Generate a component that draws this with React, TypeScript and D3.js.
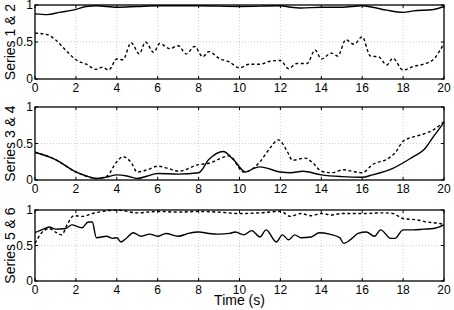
import React from "react";
import * as d3 from "d3";

const xTicks = [0, 2, 4, 6, 8, 10, 12, 14, 16, 18, 20];
const yTicks = [0, 0.5, 1];
const yTickLabels = ["0", "0.5", "1"];
const panelLabels = ["Series 1 & 2", "Series 3 & 4", "Series 5 & 6"];
const xLabel = "Time (s)";

const s1x = [0, 0.6, 1.2, 2, 2.5, 3, 4, 5, 6, 8, 10, 12, 12.5, 13, 14, 15, 16, 16.5, 17.2, 18, 18.5, 19.5, 20];
const s1y = [0.88, 0.87, 0.9, 0.94, 0.98, 0.99, 0.97, 0.98, 0.99, 0.99, 0.98, 0.99, 0.97, 0.96, 0.97, 0.97, 0.99, 0.97, 0.93, 0.9, 0.92, 0.94, 0.98];

const s2x = [0, 0.6, 1, 1.5, 2, 2.5, 3, 3.3, 3.6, 4, 4.3, 4.7, 5.1, 5.4, 5.8, 6.1, 6.6, 7, 7.4, 7.8, 8.2, 8.5, 9, 9.5, 10, 10.5, 11, 11.5, 12, 12.4, 12.8, 13.3, 13.7, 14, 14.5, 14.8, 15.2, 15.6, 16, 16.4, 16.8, 17.2, 17.5, 18, 18.5, 19, 19.5, 20];
const s2y = [0.62, 0.6, 0.53, 0.39, 0.26, 0.2, 0.13, 0.16, 0.12, 0.27, 0.26, 0.49, 0.34, 0.5, 0.36, 0.48, 0.41, 0.45, 0.34, 0.44, 0.3, 0.37, 0.28, 0.23, 0.15, 0.2, 0.2, 0.24, 0.25, 0.14, 0.21, 0.21, 0.39, 0.27, 0.35, 0.31, 0.53, 0.47, 0.57, 0.31, 0.3, 0.19, 0.28, 0.12, 0.17, 0.2, 0.27, 0.48];

const s3x = [0, 1, 2, 2.5, 3, 3.5, 4, 4.5, 5, 5.5, 6, 7, 8, 8.5, 9.2, 9.7, 10.3, 10.7, 11, 12, 12.5, 13.1, 14, 15, 16, 16.5, 17.5, 18.5, 19, 19.5, 20];
const s3y = [0.38, 0.28, 0.11, 0.055, 0.02, 0.04, 0.07, 0.055, 0.02, 0.055, 0.09, 0.08, 0.1, 0.28, 0.39, 0.28, 0.11, 0.16, 0.18, 0.11, 0.1, 0.12, 0.07, 0.046, 0.037, 0.07, 0.16, 0.32, 0.41, 0.6, 0.79];

const s4x = [0, 1, 2, 2.5, 3, 3.5, 4, 4.3, 4.7, 5, 5.5, 6, 6.5, 7, 8, 8.5, 9.5, 10.2, 10.5, 11, 11.5, 11.9, 12.3, 12.6, 13.2, 13.6, 14, 14.5, 15.1, 15.5, 16, 16.5, 17.3, 17.6, 18, 18.5, 19, 19.5, 20];
const s4y = [0.38, 0.28, 0.11, 0.055, 0.02, 0.05, 0.25, 0.32, 0.24, 0.11, 0.14, 0.19, 0.16, 0.12, 0.21, 0.23, 0.33, 0.11, 0.13, 0.25, 0.44, 0.55, 0.41, 0.27, 0.3, 0.23, 0.12, 0.1, 0.14, 0.12, 0.1, 0.21, 0.3, 0.37, 0.53, 0.59, 0.63, 0.69, 0.8];

const s5x = [0, 0.5, 0.7, 1, 1.5, 1.8, 2.3, 2.6, 2.8, 3, 3.5, 3.8, 4, 4.2, 4.5, 4.8, 5.2, 5.6, 6, 6.4, 7, 7.5, 8, 8.5, 9, 9.5, 9.8, 10.2, 10.6, 11, 11.3, 11.8, 12.1, 12.4, 12.7, 13, 13.5, 13.9, 14.4, 14.9, 15.1, 15.5, 15.8, 16.2, 16.6, 16.9, 17.4, 17.6, 18, 18.5, 19, 19.5, 20];
const s5y = [0.68, 0.74, 0.76, 0.73, 0.74, 0.79, 0.75, 0.83, 0.83, 0.61, 0.63, 0.6, 0.61, 0.55, 0.61, 0.68, 0.63, 0.66, 0.63, 0.67, 0.63, 0.67, 0.69, 0.67, 0.66, 0.67, 0.69, 0.65, 0.71, 0.62, 0.72, 0.55, 0.65, 0.58, 0.65, 0.61, 0.62, 0.68, 0.66, 0.61, 0.53, 0.6, 0.67, 0.69, 0.63, 0.72, 0.6, 0.6, 0.72, 0.72, 0.73, 0.74, 0.79];

const s6x = [0, 0.3, 0.7, 1, 1.3, 1.6, 1.9, 2.3, 2.8, 3.3, 4, 5, 6, 7, 8, 9, 10, 11, 12, 12.5, 13, 13.5, 14, 14.5, 15, 16, 17, 17.5, 18, 18.7, 19.2, 19.8, 20];
const s6y = [0.53, 0.67, 0.74, 0.69, 0.65, 0.81, 0.92, 0.91, 0.95, 0.98, 1.0, 0.96, 0.98, 0.97, 0.98, 0.97, 0.95, 0.96, 0.98, 0.91, 0.95, 0.92, 0.95, 0.93, 0.95, 0.95, 0.96, 0.95, 0.88, 0.86, 0.83, 0.81, 0.79];

const panels = [
  { top: 5, bottom: 79, solid: [s1x, s1y], dashed: [s2x, s2y], label: panelLabels[0] },
  { top: 107, bottom: 180, solid: [s3x, s3y], dashed: [s4x, s4y], label: panelLabels[1] },
  { top: 210, bottom: 281, solid: [s5x, s5y], dashed: [s6x, s6y], label: panelLabels[2] },
];

const W = 454;
const H = 310;
const left = 35;
const right = 444;
const font = "'Liberation Sans', Arial, Helvetica, sans-serif";

export default function App() {
  const x = d3.scaleLinear().domain([0, 20]).range([left, right]);
  return (
    <svg width={W} height={H} style={{ position: "absolute", left: 0, top: 0, background: "#fff" }} fontFamily={font}>
      {panels.map((p, i) => {
        const y = d3.scaleLinear().domain([0, 1]).range([p.bottom, p.top]);
        const line = d3
          .line<[number, number]>()
          .x((d) => x(d[0]))
          .y((d) => y(d[1]))
          .curve(d3.curveMonotoneX);
        const solidPts = p.solid[0].map((v, k) => [v, p.solid[1][k]] as [number, number]);
        const dashPts = p.dashed[0].map((v, k) => [v, p.dashed[1][k]] as [number, number]);
        return (
          <g key={i}>
            {xTicks.slice(1, -1).map((t) => (
              <line key={"gx" + t} x1={x(t)} x2={x(t)} y1={p.top} y2={p.bottom} stroke="#aaa" strokeWidth={0.6} strokeDasharray="1,2" />
            ))}
            {yTicks.slice(1, -1).map((t) => (
              <line key={"gy" + t} x1={left} x2={right} y1={y(t)} y2={y(t)} stroke="#aaa" strokeWidth={0.6} strokeDasharray="1,2" />
            ))}
            <path d={line(dashPts) || ""} fill="none" stroke="#000" strokeWidth={1.4} strokeDasharray="3,2.5" />
            <path d={line(solidPts) || ""} fill="none" stroke="#000" strokeWidth={1.4} />
            <rect x={left} y={p.top} width={right - left} height={p.bottom - p.top} fill="none" stroke="#000" strokeWidth={1.3} />
            {xTicks.map((t) => (
              <g key={"tx" + t}>
                <line x1={x(t)} x2={x(t)} y1={p.bottom} y2={p.bottom - 3} stroke="#000" strokeWidth={1} />
                <line x1={x(t)} x2={x(t)} y1={p.top} y2={p.top + 3} stroke="#000" strokeWidth={1} />
                <text x={x(t)} y={p.bottom + 13} fontSize={12} textAnchor="middle">
                  {t}
                </text>
              </g>
            ))}
            {yTicks.map((t, k) => (
              <g key={"ty" + t}>
                <line x1={left} x2={left + 3} y1={y(t)} y2={y(t)} stroke="#000" strokeWidth={1} />
                <line x1={right} x2={right - 3} y1={y(t)} y2={y(t)} stroke="#000" strokeWidth={1} />
                <text x={left - 2} y={y(t) + 4} fontSize={12} textAnchor="end">
                  {yTickLabels[k]}
                </text>
              </g>
            ))}
            <text
              transform={`translate(15,${(p.top + p.bottom) / 2}) rotate(-90)`}
              fontSize={14}
              textAnchor="middle"
            >
              {p.label}
            </text>
          </g>
        );
      })}
      <text x={x(10)} y={305} fontSize={14} textAnchor="middle">
        {xLabel}
      </text>
    </svg>
  );
}
